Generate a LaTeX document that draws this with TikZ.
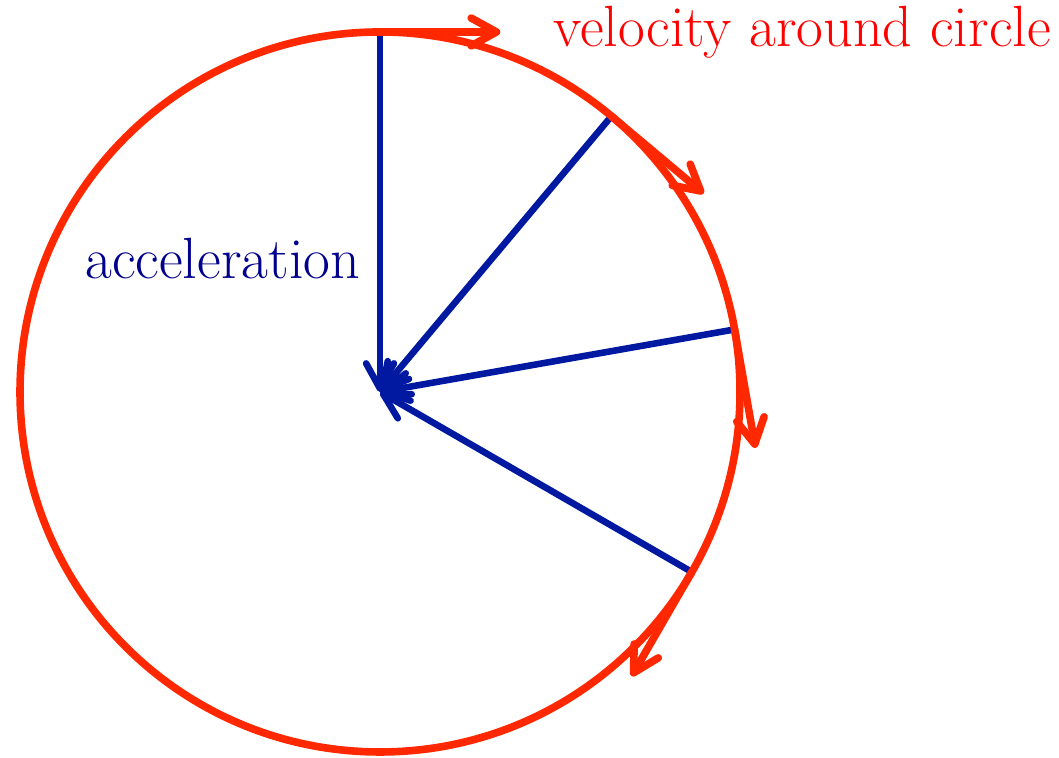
\documentclass[tikz,border=0pt]{standalone}
\usepackage{tikz}
\usetikzlibrary{arrows.meta,calc}

\definecolor{velred}{RGB}{255,40,0}
\definecolor{accblue}{RGB}{0,25,160}
\definecolor{accnavy}{RGB}{0,0,140}

\begin{document}
\begin{tikzpicture}[>={Straight Barb[length=10pt,width=11pt,round]}, line cap=round]
\useasboundingbox (-5.278,-5.083) rectangle (9.43,5.444);
\coordinate (O) at (0,0);

% acceleration towards the centre
\foreach \a in {90,50,10,-30} {
  \coordinate (p\a) at (\a:5);
  \draw[->,accblue,line width=2.6pt] (p\a) -- (O);
}

% the circle
\draw[velred,line width=3pt] (O) circle (5);

% velocity along the tangent
\foreach \a in {90,50,10,-30} {
  \coordinate (v\a) at ($(p\a)+(\a-90:1.67)$);
  \draw[->,velred,line width=3pt] (p\a) -- (v\a);
}

% labels
\node[red,anchor=base west,inner sep=0pt,font=\fontsize{23}{28}\selectfont] (vlab) at (2.4,4.8) {velocity around circle};
\node[accnavy,anchor=base west,inner sep=0pt,font=\fontsize{23}{28}\selectfont] (alab) at (-4.1,1.58) {acceleration};
\end{tikzpicture}
\end{document}
